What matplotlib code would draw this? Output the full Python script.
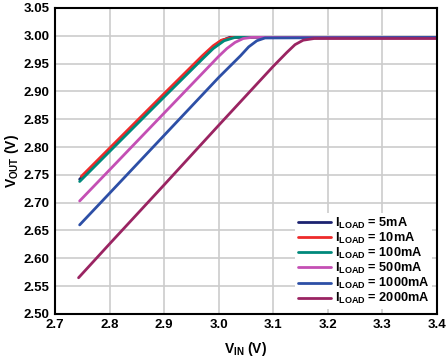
import numpy as np
import matplotlib.pyplot as plt

plt.rcParams['font.family'] = ['Liberation Sans', 'DejaVu Sans']
plt.rcParams['mathtext.fontset'] = 'custom'
plt.rcParams['mathtext.rm'] = 'Liberation Sans:bold'
plt.rcParams['mathtext.it'] = 'Liberation Sans:bold'
plt.rcParams['mathtext.bf'] = 'Liberation Sans:bold'

# ---- data ----
labels = ['5mA', '10mA', '100mA', '500mA', '1000mA', '2000mA']
colors = ['#1c2270', '#ee2a2a', '#00897b', '#c44fb4', '#2d4fa6', '#9a2462']

vin_5 = [2.745, 2.80, 2.90, 2.97, 2.99, 3.005, 3.02, 3.40]
vout_5 = [2.742, 2.795, 2.893, 2.962, 2.980, 2.991, 2.997, 2.997]
vin_10 = [2.748, 2.80, 2.90, 2.97, 2.99, 3.005, 3.025, 3.40]
vout_10 = [2.747, 2.798, 2.896, 2.964, 2.982, 2.992, 2.997, 2.997]
vin_100 = [2.745, 2.80, 2.90, 2.97, 2.99, 3.01, 3.03, 3.40]
vout_100 = [2.738, 2.792, 2.890, 2.958, 2.977, 2.991, 2.997, 2.997]
vin_500 = [2.745, 2.80, 2.90, 3.00, 3.015, 3.03, 3.045, 3.06, 3.40]
vout_500 = [2.703, 2.759, 2.861, 2.963, 2.977, 2.988, 2.995, 2.997, 2.997]
vin_1000 = [2.745, 2.80, 2.90, 3.00, 3.04, 3.055, 3.07, 3.085, 3.40]
vout_1000 = [2.660, 2.717, 2.821, 2.925, 2.964, 2.980, 2.991, 2.996, 2.997]
vin_2000 = [2.743, 2.80, 2.90, 3.00, 3.10, 3.125, 3.14, 3.155, 3.175, 3.40]
vout_2000 = [2.565, 2.626, 2.732, 2.839, 2.945, 2.970, 2.984, 2.992, 2.995, 2.995]

vins = [vin_5, vin_10, vin_100, vin_500, vin_1000, vin_2000]
vouts = [vout_5, vout_10, vout_100, vout_500, vout_1000, vout_2000]

fig = plt.figure(figsize=(4.48, 3.6), dpi=100)
ax = fig.add_axes([0.123, 0.128, 0.852, 0.85])

for x, y, c, l in zip(vins, vouts, colors, labels):
    ax.plot(x, y, color=c, lw=2, solid_capstyle='round', solid_joinstyle='round',
            label=r'I$_{\mathrm{LOAD}}$ = ' + l)

ax.set_xlim(2.7, 3.4)
ax.set_ylim(2.5, 3.05)
ax.set_xticks(np.arange(2.7, 3.41, 0.1))
ax.set_yticks(np.arange(2.5, 3.051, 0.05))
ax.set_xticklabels(['%.1f' % v for v in np.arange(2.7, 3.41, 0.1)])
ax.set_yticklabels(['%.2f' % v for v in np.arange(2.5, 3.051, 0.05)])
ax.tick_params(length=0, labelsize=9.5, pad=4)
for lab in ax.get_xticklabels() + ax.get_yticklabels():
    lab.set_fontweight('bold')
ax.grid(True, color='#cccccc', lw=1.2)
ax.set_axisbelow(True)
for s in ax.spines.values():
    s.set_linewidth(1.5)

ax.set_xlabel(r'V$_{\mathrm{IN}}$ (V)', fontsize=10, fontweight='bold', labelpad=6)
ax.set_ylabel(r'V$_{\mathrm{OUT}}$ (V)', fontsize=10, fontweight='bold', labelpad=2)

leg = ax.legend(loc='lower right', fontsize=9.2, frameon=True, framealpha=1,
                edgecolor='none', handlelength=2.6, handletextpad=0.3,
                labelspacing=0.0, borderpad=0.2, borderaxespad=0.4)
for t in leg.get_texts():
    t.set_fontweight('bold')

plt.savefig('out.png', dpi=100)
